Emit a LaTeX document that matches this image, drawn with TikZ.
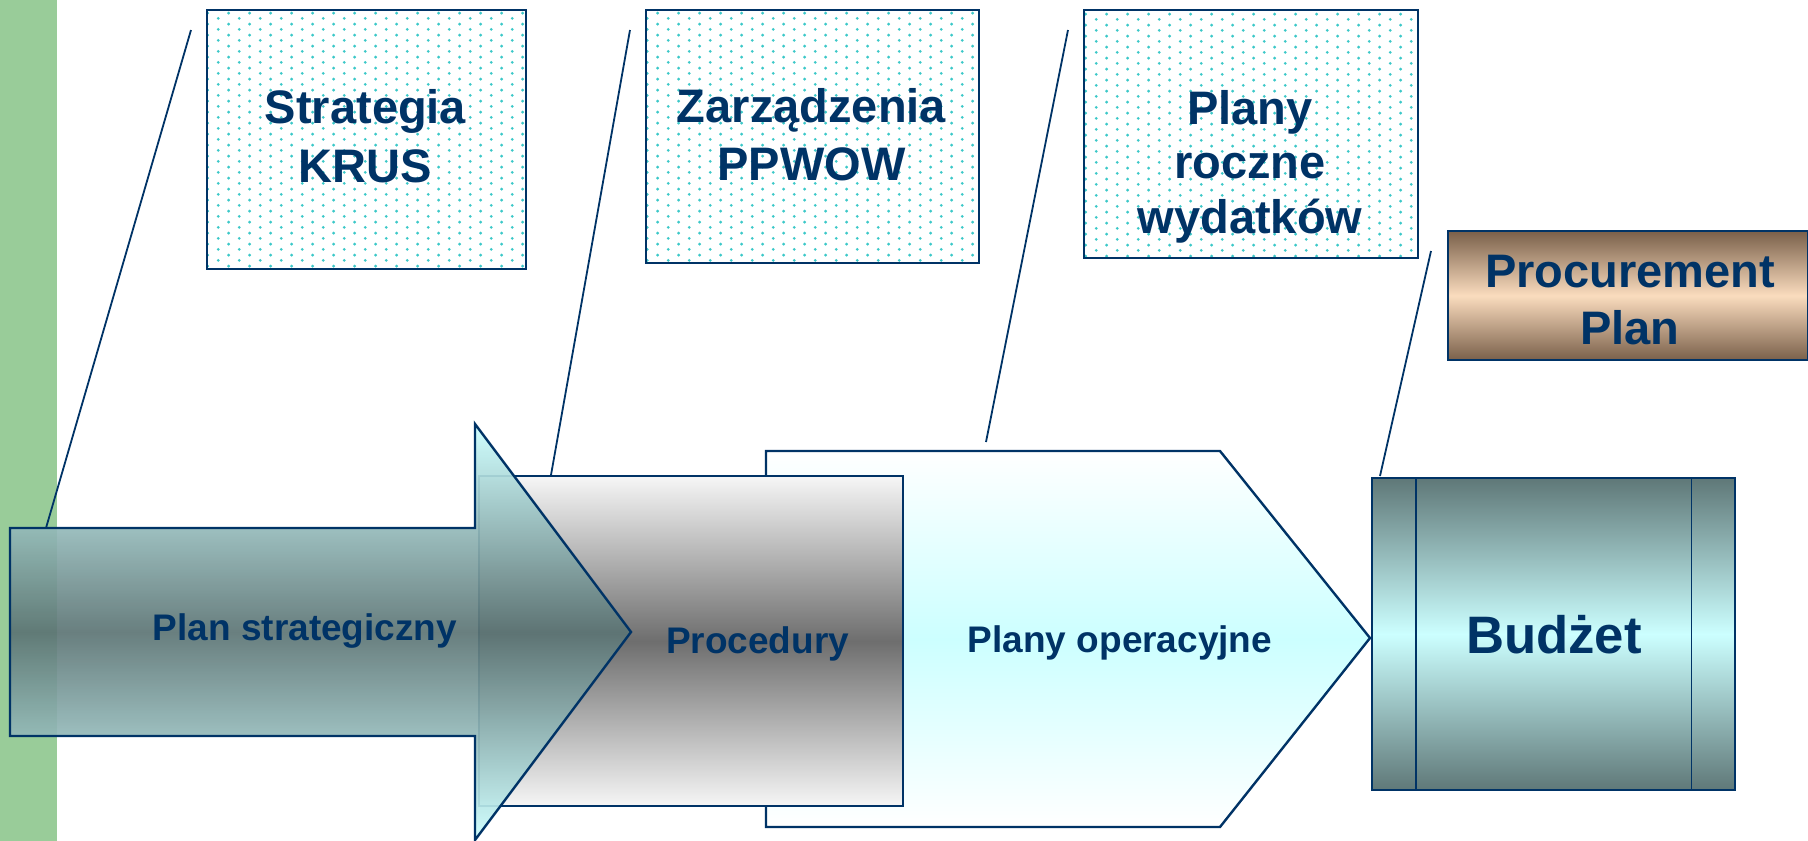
\documentclass[tikz,border=0pt]{standalone}
\usepackage{fontspec}
\setmainfont{Liberation Sans}
\usetikzlibrary{patterns.meta}
\definecolor{navy}{RGB}{0,51,102}
\definecolor{greenbar}{RGB}{153,204,153}
\definecolor{dotteal}{RGB}{60,200,200}
\definecolor{opcyan}{RGB}{204,255,255}
\definecolor{procl}{RGB}{246,246,246}
\definecolor{procd}{RGB}{110,110,110}
\definecolor{arrl}{RGB}{204,255,255}
\definecolor{arrd}{RGB}{92,116,116}
\definecolor{budd}{RGB}{95,120,120}
\definecolor{budl}{RGB}{204,255,255}
\definecolor{brownd}{RGB}{122,96,74}
\definecolor{peach}{RGB}{250,220,190}
\pgfdeclarepattern{
  name=tealdots, type=uncolored,
  bottom left={\pgfpointorigin}, top right={\pgfpoint{21.4pt}{10.7pt}},
  tile size={\pgfpoint{21.4pt}{10.7pt}},
  code={\pgfpathcircle{\pgfpoint{5.35pt}{2.7pt}}{1.6pt}\pgfpathcircle{\pgfpoint{16.05pt}{8.05pt}}{1.6pt}\pgfusepath{fill}}
}
\tikzset{
  edge/.style={draw=navy, line width=2.4pt},
  boxnode/.style={rectangle, edge, inner sep=0pt, anchor=north west},
  topbox/.style={boxnode, pattern=tealdots, pattern color=dotteal},
  lbl/.style={text=navy, inner sep=0pt, anchor=base, align=center},
  leader/.style={draw=navy, line width=1.8pt},
}
\begin{document}
\begin{tikzpicture}[x=1pt,y=-1pt]
\useasboundingbox (0,0) rectangle (1808,841);
\clip (0,0) rectangle (1808,841);
\fill[greenbar] (0,0) rectangle (57,841);

% Plany operacyjne (pentagon)
\draw[edge, top color=white, bottom color=white, middle color=opcyan]
  (766,451) coordinate (opnw) -- (1220,451) -- (1370,638) coordinate (optip) -- (1220,827) -- (766,827) -- cycle;

% Procedury
\node[boxnode, minimum width=424pt, minimum height=330pt, top color=procl, bottom color=procl, middle color=procd] (proc) at (478,475) {};

% Plan strategiczny arrow
\draw[edge, fill opacity=0.92, top color=arrl, bottom color=arrl, middle color=arrd]
  (10,528) coordinate (arrnw) -- (475,528) -- (475,424) -- (631,632) -- (475,840) -- (475,736) -- (10,736) -- cycle;

% Budzet
\node[boxnode, minimum width=363pt, minimum height=312pt, top color=budd, bottom color=budd, middle color=budl] (bud) at (1371,477) {};
\draw[navy, line width=1.6pt] ([xshift=45pt]bud.north west) -- ([xshift=45pt]bud.south west);
\draw[navy, line width=1.6pt] ([xshift=-45pt]bud.north east) -- ([xshift=-45pt]bud.south east);

% Procurement Plan
\node[boxnode, minimum width=360pt, minimum height=129pt, top color=brownd, bottom color=brownd, middle color=peach] (procure) at (1447,230) {};

% top boxes
\node[topbox, minimum width=319pt, minimum height=259pt] (krus) at (206,9) {};
\node[topbox, minimum width=333pt, minimum height=253pt] (ppwow) at (645,9) {};
\node[topbox, minimum width=334pt, minimum height=248pt] (roczne) at (1083,9) {};

% texts (anchor base = last line baseline)
\node[lbl, font=\bfseries\fontsize{47}{59}\selectfont] (tkrus) at (365.5,182) {Strategia\\KRUS};
\node[lbl, font=\bfseries\fontsize{47}{58}\selectfont] (tppwow) at (811.5,180) {Zarządzenia\\PPWOW};
\node[lbl, font=\bfseries\fontsize{47}{54.5}\selectfont] (troczne) at (1250,233) {Plany\\roczne\\wydatków};
\node[lbl, font=\bfseries\fontsize{47}{57}\selectfont] (tprocure) at (1630,344) {Procurement\\Plan};
\node[lbl, font=\bfseries\fontsize{37}{44}\selectfont] (tplan) at (305,640) {Plan strategiczny};
\node[lbl, font=\bfseries\fontsize{37}{44}\selectfont] (top) at (1120,652) {Plany operacyjne};
\node[lbl, font=\bfseries\fontsize{37}{44}\selectfont] (tproc) at (757.5,653) {Procedury};
\node[lbl, font=\bfseries\fontsize{52.7}{60}\selectfont] (tbud) at (1554,653) {Budżet};

% leader lines
\coordinate (l1a) at (191,30);   \coordinate (l1b) at (46,528);
\coordinate (l2a) at (630,30);   \coordinate (l2b) at (551,475);
\coordinate (l3a) at (1068,30);  \coordinate (l3b) at (986,442);
\coordinate (l4a) at (1431,251); \coordinate (l4b) at (1380,476);
\draw[leader] (l1a) -- (l1b);
\draw[leader] (l2a) -- (l2b);
\draw[leader] (l3a) -- (l3b);
\draw[leader] (l4a) -- (l4b);
\end{tikzpicture}
\end{document}
